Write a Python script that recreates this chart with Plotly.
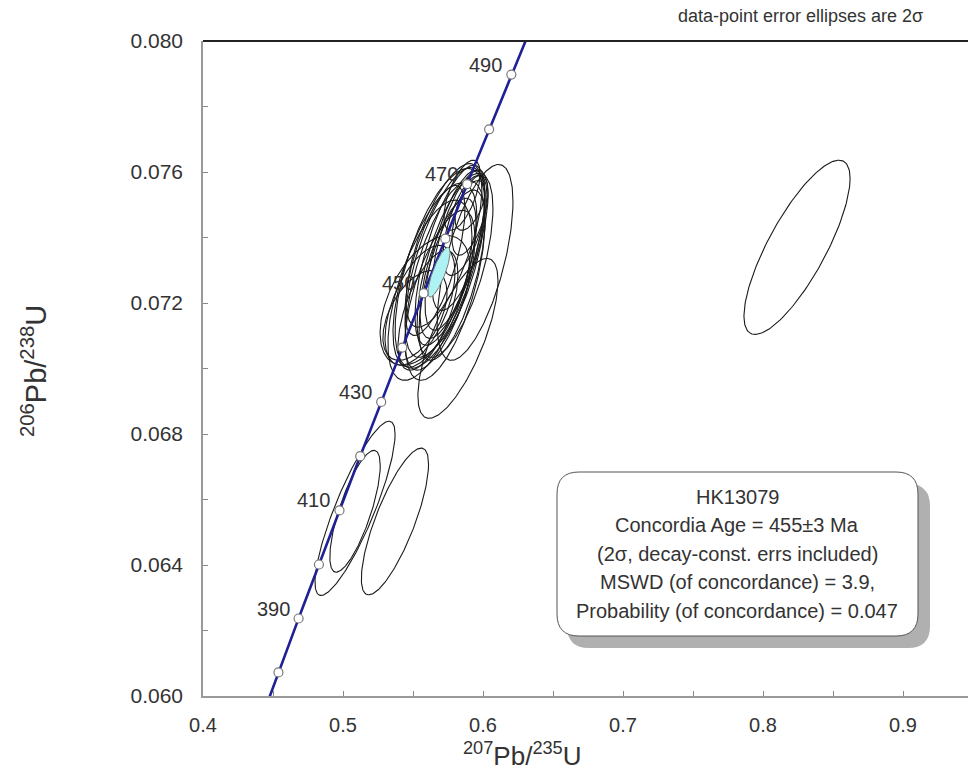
import numpy as np
import plotly.graph_objects as go

# ---------------- data ----------------
# data-point error ellipses (2 sigma): centre, half-widths and correlation
ell_x = [0.5693, 0.5729, 0.5657, 0.5621, 0.5764, 0.5586, 0.5800, 0.5836, 0.5871, 0.5907,
         0.5693, 0.5550, 0.5657, 0.5750, 0.5607, 0.5779, 0.5943, 0.5821, 0.5721, 0.5514,
         0.5907, 0.5850, 0.5729, 0.5800,
         0.5086, 0.5086, 0.5371, 0.8243]
ell_y = [0.07306, 0.07324, 0.07285, 0.07239, 0.07346, 0.07208, 0.07361, 0.07391, 0.07437, 0.07468,
         0.07239, 0.07193, 0.07330, 0.07306, 0.07178, 0.07285, 0.07324, 0.07092, 0.07376, 0.07162,
         0.07498, 0.07529, 0.07269, 0.07315,
         0.06573, 0.06564, 0.06533, 0.07370]
ell_sx = [0.0321, 0.0286, 0.0300, 0.0300, 0.0250, 0.0321, 0.0214, 0.0200, 0.0157, 0.0129,
          0.0250, 0.0250, 0.0214, 0.0200, 0.0214, 0.0236, 0.0271, 0.0286, 0.0271, 0.0229,
          0.0107, 0.0129, 0.0286, 0.0271,
          0.0286, 0.0180, 0.0240, 0.0379]
ell_sy = [0.00305, 0.00290, 0.00281, 0.00275, 0.00275, 0.00198, 0.00244, 0.00214, 0.00153, 0.00122,
          0.00244, 0.00183, 0.00229, 0.00214, 0.00183, 0.00260, 0.00299, 0.00244, 0.00250, 0.00137,
          0.00076, 0.00107, 0.00305, 0.00281,
          0.00266, 0.00186, 0.00224, 0.00266]
ell_rho = [0.62, 0.65, 0.62, 0.60, 0.68, 0.50, 0.68, 0.65, 0.62, 0.58,
           0.65, 0.55, 0.68, 0.65, 0.60, 0.65, 0.62, 0.72, 0.68, 0.50,
           0.55, 0.62, 0.60, 0.62,
           0.85, 0.75, 0.78, 0.79]

# concordia-age ellipse
age_x, age_y, age_sx, age_sy, age_rho = 0.5686, 0.07294, 0.0079, 0.00076, 0.80

# concordia: decay constants (1/yr) and age marks (Ma)
lambda235 = 9.8485e-10
lambda238 = 1.55125e-10
mark_ages = [380, 390, 400, 410, 420, 430, 440, 450, 460, 470, 480, 490]
label_ages = [390, 410, 430, 450, 470, 490]
curve_age_min, curve_age_max = 360, 520

x_ticks = [0.4, 0.45, 0.5, 0.55, 0.6, 0.65, 0.7, 0.75, 0.8, 0.85, 0.9]
x_ticktext = ["0.4", "", "0.5", "", "0.6", "", "0.7", "", "0.8", "", "0.9"]
y_ticks = [0.060, 0.062, 0.064, 0.066, 0.068, 0.070, 0.072, 0.074, 0.076, 0.078, 0.080]
y_ticktext = ["0.060", "", "0.064", "", "0.068", "", "0.072", "", "0.076", "", "0.080"]

info_lines = ["HK13079", "Concordia Age = 455\u00b13 Ma", "(2\u03c3, decay-const. errs included)",
              "MSWD (of concordance) = 3.9,", "Probability (of concordance) = 0.047"]

# ---------------- figure ----------------
W, H = 968, 772
ML, MR, MT, MB = 203, 0, 41, 76
PW, PH = W - ML - MR, H - MT - MB
FONT = "Liberation Sans, Arial, Helvetica, sans-serif"
TXT = "#333333"

fig = go.Figure()

t = np.linspace(0, 2 * np.pi, 200)


def ellipse(cx, cy, sx, sy, r):
    ex = cx + sx * np.cos(t)
    ey = cy + sy * (r * np.cos(t) + np.sqrt(1 - r * r) * np.sin(t))
    return ex, ey


for cx, cy, sx, sy, r in zip(ell_x, ell_y, ell_sx, ell_sy, ell_rho):
    ex, ey = ellipse(cx, cy, sx, sy, r)
    fig.add_trace(go.Scatter(x=ex, y=ey, mode="lines", line=dict(color="#1a1a1a", width=1.1),
                             hoverinfo="skip", showlegend=False))

# concordia curve
ages = np.linspace(curve_age_min, curve_age_max, 300) * 1e6
cx_curve = np.exp(lambda235 * ages) - 1
cy_curve = np.exp(lambda238 * ages) - 1
fig.add_trace(go.Scatter(x=cx_curve, y=cy_curve, mode="lines", line=dict(color="#1f1f96", width=2.6),
                         hoverinfo="skip", showlegend=False))

ma = np.array(mark_ages) * 1e6
fig.add_trace(go.Scatter(x=np.exp(lambda235 * ma) - 1, y=np.exp(lambda238 * ma) - 1, mode="markers",
                         marker=dict(size=9, color="white", line=dict(color="#777777", width=1.2)),
                         hoverinfo="skip", showlegend=False))

# age ellipse
ex, ey = ellipse(age_x, age_y, age_sx, age_sy, age_rho)
fig.add_trace(go.Scatter(x=ex, y=ey, mode="lines", fill="toself", fillcolor="#aef3f3",
                         line=dict(color="#777777", width=1), hoverinfo="skip", showlegend=False))

# age labels
for a in label_ages:
    fig.add_annotation(x=np.exp(lambda235 * a * 1e6) - 1, y=np.exp(lambda238 * a * 1e6) - 1,
                       text=str(a), showarrow=False, xanchor="right", yanchor="middle",
                       xshift=-7, yshift=10, font=dict(family=FONT, size=20, color=TXT))


def px2paper(px, py):
    return (px - ML) / PW, (H - MB - py) / PH


def rounded_path(x0, y0, x1, y1, rad):
    # pixel coords -> paper coords path
    def P(px, py):
        a, b = px2paper(px, py)
        return f"{a:.5f},{b:.5f}"
    return (f"M {P(x0 + rad, y0)} L {P(x1 - rad, y0)} Q {P(x1, y0)} {P(x1, y0 + rad)} "
            f"L {P(x1, y1 - rad)} Q {P(x1, y1)} {P(x1 - rad, y1)} "
            f"L {P(x0 + rad, y1)} Q {P(x0, y1)} {P(x0, y1 - rad)} "
            f"L {P(x0, y0 + rad)} Q {P(x0, y0)} {P(x0 + rad, y0)} Z")


# shadow + box
fig.add_shape(type="path", xref="paper", yref="paper", path=rounded_path(567, 484, 930, 648, 22),
              fillcolor="rgba(150,150,150,0.75)", line=dict(width=0), layer="above")
fig.add_shape(type="path", xref="paper", yref="paper", path=rounded_path(557, 472, 918, 636, 22),
              fillcolor="white", line=dict(color="#555555", width=1), layer="above")

for i, s in enumerate(info_lines):
    xp, yp = px2paper(737, 497 + i * 28.4)
    fig.add_annotation(x=xp, y=yp, xref="paper", yref="paper", text=s, showarrow=False,
                       xanchor="center", yanchor="middle", font=dict(family=FONT, size=20, color=TXT))

# top frame line
fig.add_shape(type="line", xref="paper", yref="paper", x0=0, x1=1, y0=1, y1=1,
              line=dict(color="#222222", width=2))

# header note
xp, yp = px2paper(800, 16)
fig.add_annotation(x=xp, y=yp, xref="paper", yref="paper", text="data-point error ellipses are 2\u03c3",
                   showarrow=False, xanchor="center", yanchor="middle",
                   font=dict(family=FONT, size=18, color=TXT))

# axis titles
xp, yp = px2paper(522, 754)
fig.add_annotation(x=xp, y=yp, xref="paper", yref="paper",
                   text="<sup>207</sup>Pb/<sup>235</sup>U", showarrow=False, borderpad=0,
                   xanchor="center", yanchor="middle", font=dict(family=FONT, size=26, color=TXT))
xp, yp = px2paper(34, 371)
fig.add_annotation(x=xp, y=yp, xref="paper", yref="paper",
                   text="<sup>206</sup>Pb/<sup>238</sup>U", showarrow=False, textangle=-90,
                   xanchor="center", yanchor="middle", font=dict(family=FONT, size=29, color=TXT))

fig.update_layout(
    width=W, height=H, margin=dict(l=ML, r=MR, t=MT, b=MB),
    paper_bgcolor="white", plot_bgcolor="white", showlegend=False,
    xaxis=dict(range=[0.4, 0.4 + PW / 1400], tickvals=x_ticks, ticktext=x_ticktext,
               ticks="inside", ticklen=5, tickcolor="#888888", showgrid=False, zeroline=False,
               showline=True, linecolor="#999999", linewidth=1.5,
               tickfont=dict(family=FONT, size=20, color=TXT), ticklabelstandoff=10),
    yaxis=dict(range=[0.060, 0.080], tickvals=y_ticks, ticktext=y_ticktext,
               ticks="inside", ticklen=5, tickcolor="#888888", showgrid=False, zeroline=False,
               showline=True, linecolor="#999999", linewidth=1.5,
               tickfont=dict(family=FONT, size=21, color=TXT), ticklabelstandoff=14),
)

fig.write_html("out.html")
